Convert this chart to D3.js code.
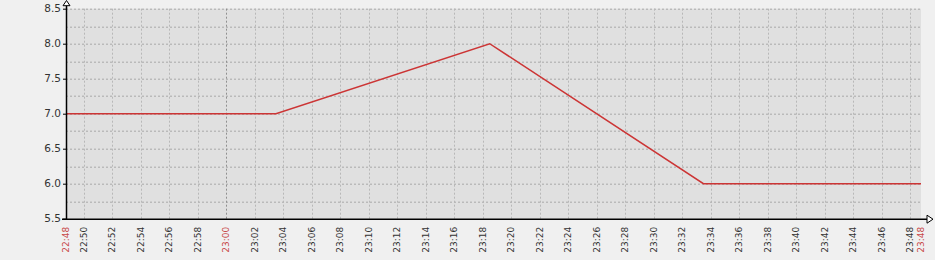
<!DOCTYPE html>
<html>
<head>
<meta charset="utf-8">
<script src="https://cdn.jsdelivr.net/npm/d3@7"></script>
<style>
  html, body { margin: 0; padding: 0; background: #f0f0f0; }
  svg { display: block; font-family: "DejaVu Sans", sans-serif; }
</style>
</head>
<body>
<script>
// period shown and the item values
const periodStart = '22:48:46';
const periodEnd = '23:48:46';
const times = ['22:48:46', '23:03:30', '23:18:30', '23:33:30', '23:48:46'];
const values = [7.0, 7.0, 8.0, 6.0, 6.0];
const yTicks = [5.5, 6.0, 6.5, 7.0, 7.5, 8.0, 8.5];
const yGrid = [5.75, 6.0, 6.25, 6.5, 6.75, 7.0, 7.25, 7.5, 7.75, 8.0, 8.25, 8.5];
const hourMarks = ['23:00'];

const width = 935, height = 260;
const margin = { top: 8.7, right: 14, bottom: 41.3, left: 66 };
const w = width - margin.left - margin.right;
const h = height - margin.top - margin.bottom;

const parse = d3.timeParse('%H:%M:%S');
const fmt = d3.timeFormat('%H:%M');
const t0 = parse(periodStart), t1 = parse(periodEnd);

const x = d3.scaleTime().domain([t0, t1]).range([0, w]);
const y = d3.scaleLinear().domain([5.5, 8.5]).range([h, 0]);

const svg = d3.select('body').append('svg')
  .attr('width', width)
  .attr('height', height)
  .append('g')
  .attr('transform', 'translate(' + margin.left + ',' + margin.top + ')');

svg.append('rect')
  .attr('width', w)
  .attr('height', h)
  .attr('fill', '#e0e0e0');

const xTicks = x.ticks(d3.timeMinute.every(2)).filter(d => d > t0);
const isHour = d => hourMarks.indexOf(fmt(d)) >= 0;

// grid
svg.append('g').selectAll('line')
  .data(yGrid)
  .enter()
  .append('line')
  .attr('x1', 0).attr('x2', w)
  .attr('y1', d => Math.round(y(d)) + 0.5)
  .attr('y2', d => Math.round(y(d)) + 0.5)
  .attr('stroke', '#a8a8a8')
  .attr('stroke-dasharray', '2,2');

svg.append('g').selectAll('line')
  .data(xTicks)
  .enter()
  .append('line')
  .attr('x1', d => Math.round(x(d)) + 0.5)
  .attr('x2', d => Math.round(x(d)) + 0.5)
  .attr('y1', 0).attr('y2', h)
  .attr('stroke', d => isHour(d) ? '#909090' : '#b8b8b8')
  .attr('stroke-dasharray', '2,2');

// data line
const line = d3.line()
  .x((d, i) => x(parse(times[i])))
  .y(d => y(d));

svg.append('path')
  .datum(values)
  .attr('d', line)
  .attr('fill', 'none')
  .attr('stroke', '#cc3535')
  .attr('stroke-width', 1.5);

// axes
svg.append('line')
  .attr('x1', 0.5).attr('x2', 0.5)
  .attr('y1', h + 0.5).attr('y2', -4)
  .attr('stroke', '#000').attr('stroke-width', 1.5);
svg.append('line')
  .attr('x1', -4).attr('x2', w + 6)
  .attr('y1', h + 0.5).attr('y2', h + 0.5)
  .attr('stroke', '#000').attr('stroke-width', 1.5);

svg.append('path')
  .attr('d', 'M0.5,' + (-8.2) + 'L-3,-3L4,-3Z')
  .attr('fill', '#fff').attr('stroke', '#000');
svg.append('path')
  .attr('d', 'M' + (w + 12) + ',' + (h + 0.5) + 'L' + (w + 6) + ',' + (h - 3.5) + 'L' + (w + 6) + ',' + (h + 4.5) + 'Z')
  .attr('fill', '#fff').attr('stroke', '#000');

// y labels
svg.append('g').selectAll('text')
  .data(yTicks)
  .enter()
  .append('text')
  .attr('x', -5)
  .attr('y', d => y(d))
  .attr('dy', '0.35em')
  .attr('text-anchor', 'end')
  .attr('font-size', 10.5)
  .attr('fill', '#333')
  .text(d3.format('.1f'));

svg.append('g').selectAll('line')
  .data(yTicks)
  .enter()
  .append('line')
  .attr('x1', -3).attr('x2', 0)
  .attr('y1', d => Math.round(y(d)) + 0.5)
  .attr('y2', d => Math.round(y(d)) + 0.5)
  .attr('stroke', '#000');

// x labels
const xLabels = [{ t: t0, red: true }]
  .concat(xTicks.map(d => ({ t: d, red: isHour(d) })))
  .concat([{ t: t1, red: true }]);

svg.append('g').selectAll('text')
  .data(xLabels)
  .enter()
  .append('text')
  .attr('transform', d => 'translate(' + x(d.t) + ',' + (h + 8) + ') rotate(-90)')
  .attr('dy', '0.35em')
  .attr('text-anchor', 'end')
  .attr('font-size', 9)
  .attr('fill', d => d.red ? '#c84848' : '#333')
  .text(d => fmt(d.t));
</script>
</body>
</html>
